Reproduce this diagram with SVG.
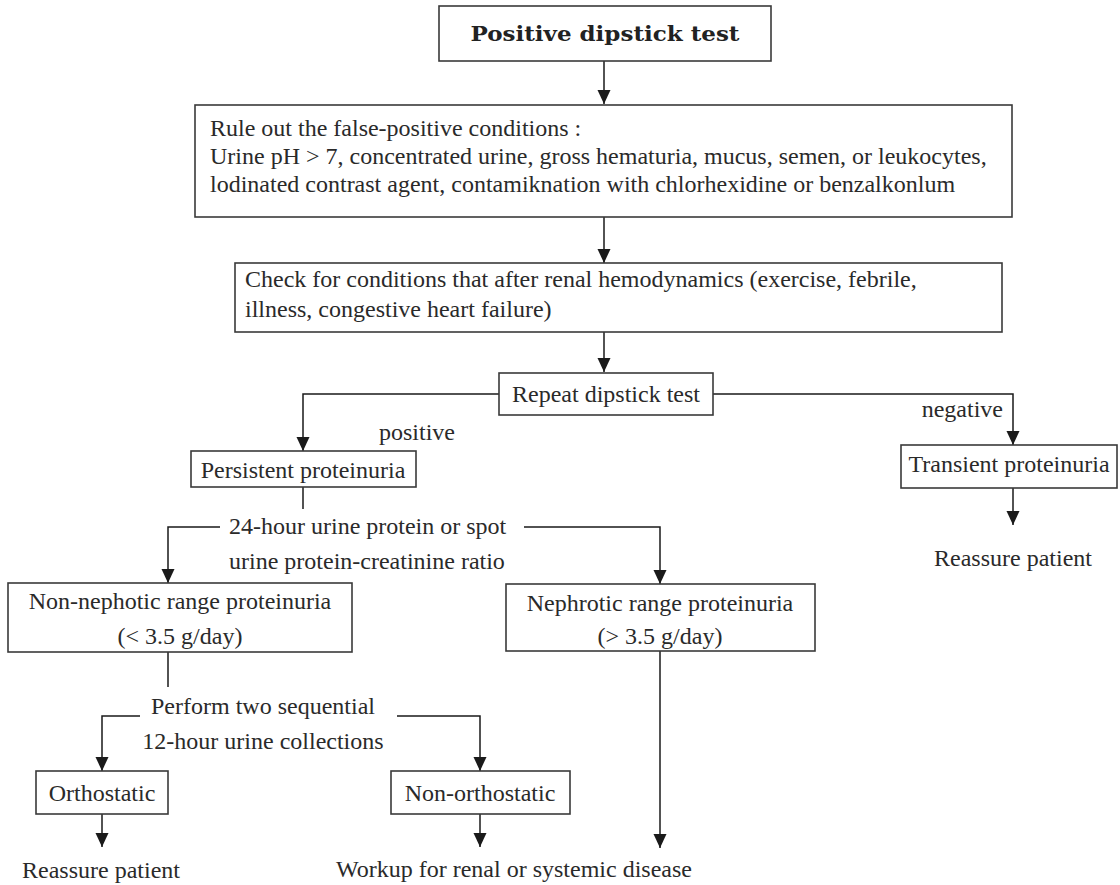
<svg xmlns="http://www.w3.org/2000/svg" width="1120" height="885" viewBox="0 0 1120 885">
<defs>
<marker id="arr" markerUnits="userSpaceOnUse" markerWidth="14" markerHeight="16" refX="14" refY="6.5" orient="auto">
<path d="M0,0 L14,6.5 L0,13 z" fill="#1a1a1a"/>
</marker>
<style>
.box{fill:#fff;stroke:#3a3a3a;stroke-width:1.6}
.t{font-family:"Liberation Serif","Times New Roman",serif;font-size:24px;fill:#2a2a2a}
.m{text-anchor:middle}
.b{font-family:"DejaVu Serif",serif;font-weight:bold;font-size:21px;fill:#222;text-anchor:middle}
.ln{fill:none;stroke:#1a1a1a;stroke-width:1.5}
.ar{fill:none;stroke:#1a1a1a;stroke-width:1.5;marker-end:url(#arr)}
</style>
</defs>
<rect width="1120" height="885" fill="#fff"/>
<g id="connectors">
<path class="ar" d="M604,61 V104"/>
<path class="ar" d="M604,217 V263"/>
<path class="ar" d="M604,332 V372"/>
<path class="ar" d="M499,394 H303 V451"/>
<path class="ar" d="M713,394 H1013 V445"/>
<path class="ar" d="M1013,488 V525"/>
<path class="ln" d="M303,487 V509"/>
<path class="ar" d="M220,527 H168 V583"/>
<path class="ar" d="M524,527 H660 V584"/>
<path class="ln" d="M168,652 V687"/>
<path class="ar" d="M140,716 H102 V771"/>
<path class="ar" d="M397,716 H480 V771"/>
<path class="ar" d="M102,814 V847"/>
<path class="ar" d="M480,814 V847"/>
<path class="ar" d="M660,651 V848"/>
</g>
<g id="n-positive">
<rect class="box" x="439" y="6" width="332" height="55"/>
<text class="b" x="605" y="41" textLength="269" lengthAdjust="spacingAndGlyphs">Positive dipstick test</text>
</g>
<g id="n-ruleout">
<rect class="box" x="195" y="105" width="817" height="112"/>
<text class="t" x="210" y="136">Rule out the false-positive conditions :</text>
<text class="t" x="210" y="164">Urine pH &gt; 7, concentrated urine, gross hematuria, mucus, semen, or leukocytes,</text>
<text class="t" x="210" y="192">lodinated contrast agent, contamiknation with chlorhexidine or benzalkonlum</text>
</g>
<g id="n-check">
<rect class="box" x="235" y="263" width="767" height="69"/>
<text class="t" x="245" y="287">Check for conditions that after renal hemodynamics (exercise, febrile,</text>
<text class="t" x="245" y="317">illness, congestive heart failure)</text>
</g>
<g id="n-repeat">
<rect class="box" x="499" y="373" width="214" height="42"/>
<text class="t m" x="606" y="402">Repeat dipstick test</text>
</g>
<g id="l-positive">
<text class="t" x="379" y="440">positive</text>
</g>
<g id="l-negative">
<text class="t" x="1003" y="417" text-anchor="end">negative</text>
</g>
<g id="n-persistent">
<rect class="box" x="191" y="451" width="225" height="36"/>
<text class="t m" x="303" y="478">Persistent proteinuria</text>
</g>
<g id="n-transient">
<rect class="box" x="901" y="445" width="216" height="43"/>
<text class="t m" x="1009" y="472">Transient proteinuria</text>
</g>
<g id="n-reassure1">
<text class="t m" x="1013" y="566">Reassure patient</text>
</g>
<g id="n-24hour">
<text class="t" x="229" y="534">24-hour urine protein or spot</text>
<text class="t" x="229" y="569">urine protein-creatinine ratio</text>
</g>
<g id="n-nonnephotic">
<rect class="box" x="8" y="583" width="344" height="69"/>
<text class="t m" x="180" y="609">Non-nephotic range proteinuria</text>
<text class="t m" x="180" y="644">(&lt; 3.5 g/day)</text>
</g>
<g id="n-nephrotic">
<rect class="box" x="506" y="584" width="309" height="67"/>
<text class="t m" x="660" y="611">Nephrotic range proteinuria</text>
<text class="t m" x="660" y="644">(&gt; 3.5 g/day)</text>
</g>
<g id="n-perform">
<text class="t m" x="263" y="714">Perform two sequential</text>
<text class="t m" x="263" y="749">12-hour urine collections</text>
</g>
<g id="n-orthostatic">
<rect class="box" x="36" y="771" width="132" height="43"/>
<text class="t m" x="102" y="801">Orthostatic</text>
</g>
<g id="n-nonorthostatic">
<rect class="box" x="391" y="771" width="179" height="43"/>
<text class="t m" x="480" y="801">Non-orthostatic</text>
</g>
<g id="n-reassure2">
<text class="t" x="22" y="878">Reassure patient</text>
</g>
<g id="n-workup">
<text class="t" x="336" y="877">Workup for renal or systemic disease</text>
</g>
</svg>
